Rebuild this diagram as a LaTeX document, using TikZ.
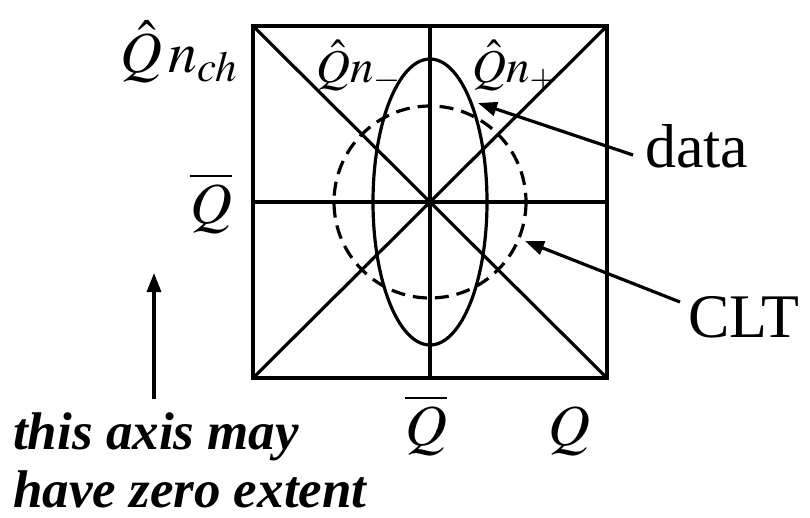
\documentclass[tikz,border=0pt]{standalone}
\usepackage{mathptmx}
\usepackage{fontspec}
\setmainfont{Liberation Serif}
\usetikzlibrary{arrows.meta}
\tikzset{
  lbl/.style={inner sep=0pt, anchor=base west},
  big/.style={font=\fontsize{62}{70}\selectfont},
  mth/.style={font=\fontsize{58}{64}\selectfont},
  mths/.style={font=\fontsize{47}{54}\selectfont},
  note/.style={font=\fontsize{53}{58}\selectfont\bfseries\itshape},
  thin/.style={line width=3.2pt},
  ptr/.style={line width=3.2pt, -{Triangle[length=19pt,width=14pt]}}
}
\begin{document}
\begin{tikzpicture}[x=1pt,y=-1pt]
\useasboundingbox (0,0) rectangle (810,517);
% frame
\coordinate (tl) at (253,26);
\coordinate (br) at (607,378);
\coordinate (tr) at (607,26);
\coordinate (bl) at (253,378);
\coordinate (c) at (430,202);
\coordinate (lm) at (253,202);
\coordinate (rm) at (607,202);
\coordinate (tm) at (430,26);
\coordinate (bm) at (430,378);
\draw[thin] (tl) -- (br);
\draw[thin] (bl) -- (tr);
\draw[thin] (lm) -- (rm);
\draw[thin] (tm) -- (bm);
\draw[line width=4.2pt] (tl) rectangle (br);
% ellipse and circle
\draw[thin] (c) ellipse [x radius=57, y radius=143];
\draw[thin, dash pattern=on 14pt off 8pt] (c) circle [radius=96];
% labels
\node[lbl, mth] (qnch) at (120,72) {$\hat{Q}\,n_{ch}$};
\node[lbl, mth] (qbarl) at (190,223) {$\overline{Q}$};
\node[lbl, mths] (qnm) at (316,82) {$\hat{Q}n_{-}$};
\node[lbl, mths] (qnp) at (472,82) {$\hat{Q}n_{+}$};
\node[lbl, mth] (qbarb) at (405,445) {$\overline{Q}$};
\node[lbl, mth] (qb) at (548,445) {$Q$};
\node[lbl, big] (data) at (645,167) {data};
\node[lbl, big] (clt) at (688,337) {CLT};
\node[lbl, note] (n1) at (13,449) {this axis may};
\node[lbl, note] (n2) at (13,507) {have zero extent};
% arrows
\coordinate (datatail) at (633,155);
\coordinate (datatip) at (478,103);
\coordinate (clttail) at (680,302);
\coordinate (clttip) at (525,241);
\coordinate (axtail) at (154,399);
\coordinate (axtip) at (154,273);
\draw[ptr] (datatail) -- (datatip);
\draw[ptr] (clttail) -- (clttip);
\draw[ptr] (axtail) -- (axtip);
\end{tikzpicture}
\end{document}
